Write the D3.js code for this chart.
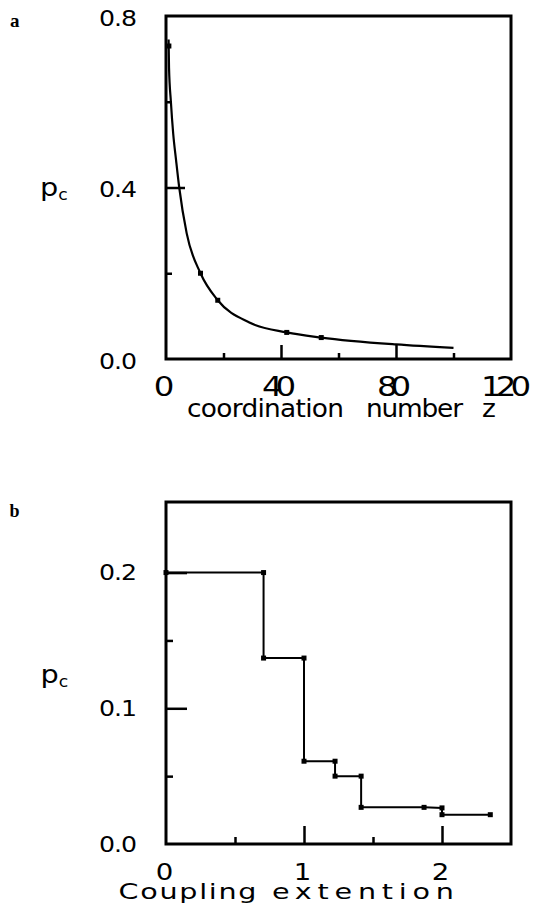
<!DOCTYPE html>
<html><head><meta charset="utf-8">
<script src="https://cdn.jsdelivr.net/npm/d3@7"></script>
<style>body{margin:0;background:#fff}svg{display:block}</style>
</head><body>
<script>
// ---- Panel a data ----
const zCurve = [0.9, 1.05, 1.7, 2.5, 3.5, 4.6, 7.2, 12, 18, 29, 42, 54, 80, 100];
const pCurve = [0.745, 0.68, 0.6, 0.526, 0.464, 0.4, 0.293, 0.2, 0.137, 0.085, 0.062, 0.05, 0.034, 0.026];
const zMarks = [1, 12, 18, 42, 54];
const pMarks = [0.73, 0.2, 0.137, 0.062, 0.05];
const aXTicksMajor = [40, 80];
const aXTicksMinor = [20, 60, 100];
const aXLabels = ["0", "40", "80", "120"];
const aXLabelVals = [0, 40, 80, 120];
const aYTicksMajor = [0.4];
const aYTicksMinor = [0.2, 0.6];
const aYLabels = ["0.8", "0.4", "0.0"];
const aYLabelVals = [0.8, 0.4, 0.0];

// ---- Panel b data ----
const ext = [0, 0.707, 0.707, 1, 1, 1.225, 1.225, 1.414, 1.414, 1.87, 2, 2, 2.35];
const pB  = [0.2, 0.2, 0.137, 0.137, 0.061, 0.061, 0.05, 0.05, 0.027, 0.027, 0.0266, 0.0216, 0.0216];
const bXTicksMajor = [1, 2];
const bXTicksMinor = [0.5, 1.5];
const bXLabels = ["0", "1", "2"];
const bXLabelVals = [0, 1, 2];
const bYTicksMajor = [0.1, 0.2];
const bYTicksMinor = [0.05, 0.15];
const bYLabels = ["0.2", "0.1", "0.0"];
const bYLabelVals = [0.2, 0.1, 0.0];

const W = 534, H = 911;
const svg = d3.select("body").append("svg").attr("width", W).attr("height", H);
const SANS = "'DejaVu Sans', sans-serif";
const SERIF = "'Liberation Serif', 'Times New Roman', serif";

// text with horizontal stretch sx (plotter fonts are wide)
function txt(s, x, y, size, len, anchor, sx, family, weight) {
  sx = sx || 1;
  const g = svg.append("g").attr("transform", `translate(${x},${y}) scale(${sx},1)`);
  const t = g.append("text").attr("x", 0).attr("y", 0)
    .attr("font-family", family || SANS).attr("font-size", size + "px")
    .attr("font-weight", weight || "normal")
    .attr("text-anchor", anchor || "start").attr("fill", "#000").text(s);
  if (len) t.attr("textLength", len / sx).attr("lengthAdjust", "spacing");
  return t;
}
function pc(x, y) {
  const g = svg.append("g").attr("transform", `translate(${x},${y}) scale(1.15,1)`);
  const t = g.append("text").attr("font-family", SANS).attr("font-size", "25px").attr("fill", "#000");
  t.append("tspan").text("p");
  t.append("tspan").attr("dy", 4).attr("font-size", "15px").text("c");
}

function panel(cfg) {
  const x = d3.scaleLinear().domain(cfg.xd).range([cfg.L, cfg.R]);
  const y = d3.scaleLinear().domain(cfg.yd).range([cfg.B, cfg.T]);
  const g = svg.append("g");
  const tk = (axis, sel) => { sel.call(axis); sel.select(".domain").remove(); sel.selectAll("text").remove(); sel.selectAll("line").attr("stroke", "#000").attr("stroke-width", 2.5); };
  tk(d3.axisRight(y).tickValues(cfg.yMaj).tickSize(cfg.yMajLen), g.append("g").attr("transform", `translate(${cfg.L},0)`));
  tk(d3.axisRight(y).tickValues(cfg.yMin).tickSize(cfg.minLen), g.append("g").attr("transform", `translate(${cfg.L},0)`));
  tk(d3.axisTop(x).tickValues(cfg.xMaj).tickSize(cfg.xMajLen), g.append("g").attr("transform", `translate(0,${cfg.B})`));
  tk(d3.axisTop(x).tickValues(cfg.xMin).tickSize(cfg.minLen), g.append("g").attr("transform", `translate(0,${cfg.B})`));
  g.append("rect").attr("x", cfg.L).attr("y", cfg.T).attr("width", cfg.R - cfg.L).attr("height", cfg.B - cfg.T)
    .attr("fill", "none").attr("stroke", "#000").attr("stroke-width", 3);
  return {x, y, g};
}

// ---------- Panel a ----------
const A = panel({xd: [0, 120], yd: [0, 0.8], L: 166, R: 511, T: 16, B: 359,
  yMaj: aYTicksMajor, yMin: aYTicksMinor, xMaj: aXTicksMajor, xMin: aXTicksMinor,
  yMajLen: 19, xMajLen: 14, minLen: 6});
const ptsA = zCurve.map((z, i) => [A.x(z), A.y(pCurve[i])]);
A.g.append("path").attr("d", d3.line().curve(d3.curveMonotoneX)(ptsA))
  .attr("fill", "none").attr("stroke", "#000").attr("stroke-width", 2.2);
A.g.selectAll("rect.m").data(zMarks).enter().append("rect").attr("class", "m")
  .attr("x", (d) => A.x(d) - 2.5).attr("y", (d, i) => A.y(pMarks[i]) - 2.5)
  .attr("width", 5).attr("height", 5).attr("fill", "#000");

txt("a", 10, 27, 19, null, "start", 1, SERIF, "bold");
aYLabels.forEach((s, i) => txt(s, 99, A.y(aYLabelVals[i]) + 9.5, 21, 38, "start", 1.2));
pc(40, 196);
aXLabels.forEach((s, i) => {
  const w = [14, 34, 34, 50][i];
  txt(s, A.x(aXLabelVals[i]) - 2 - (i === 3 ? 3 : 0), 395.5, 27, w, "middle", 1.2);
});
txt("coordination", 187, 416.5, 24, 157, "start", 1.1);
txt("number", 366, 416.5, 24, 97, "start", 1.1);
txt("z", 482, 416.5, 24, 12, "start", 1.1);

// ---------- Panel b ----------
const B = panel({xd: [0, 2.5], yd: [0, 0.252], L: 166, R: 511, T: 502, B: 844,
  yMaj: bYTicksMajor, yMin: bYTicksMinor, xMaj: bXTicksMajor, xMin: bXTicksMinor,
  yMajLen: 21, xMajLen: 18, minLen: 7});
const ptsB = ext.map((e, i) => [B.x(e), B.y(pB[i])]);
B.g.append("path").attr("d", d3.line()(ptsB))
  .attr("fill", "none").attr("stroke", "#000").attr("stroke-width", 2);
B.g.selectAll("rect.m").data(ext).enter().append("rect").attr("class", "m")
  .attr("x", (d) => B.x(d) - 2.5).attr("y", (d, i) => B.y(pB[i]) - 2.5)
  .attr("width", 5).attr("height", 5).attr("fill", "#000");

txt("b", 9.5, 517, 18, null, "start", 1, SERIF, "bold");
bYLabels.forEach((s, i) => txt(s, 99, B.y(bYLabelVals[i]) + 7.5, 21, 38, "start", 1.2));
pc(40.5, 683);
bXLabels.forEach((s, i) => txt(s, B.x(bXLabelVals[i]) - 1.5, 879.5, 23, 15, "middle", 1.2));
txt("Coupling", 118.5, 899, 22, 138, "start", 1.3);
txt("extention", 272, 899, 22, 182, "start", 1.3);
</script>
</body></html>
